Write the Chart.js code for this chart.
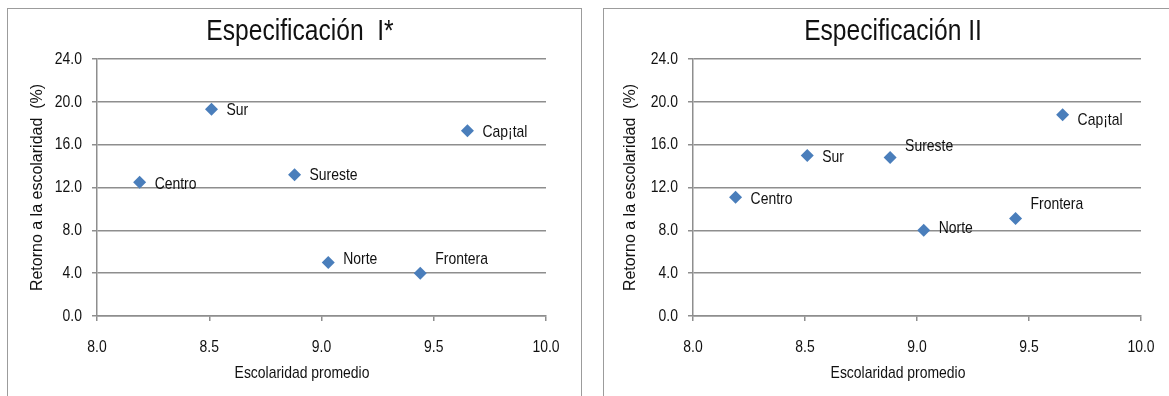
<!DOCTYPE html>
<html>
<head>
<meta charset="utf-8">
<script src="https://cdn.jsdelivr.net/npm/chart.js@4.4.1/dist/chart.umd.min.js"></script>
<style>
  html, body { margin: 0; padding: 0; background: #fff; overflow: hidden; width: 1169px; height: 396px; }
  body { position: relative; }
  .panel { position: absolute; top: 8px; height: 400px; border: 1px solid #9c9c9c; box-sizing: border-box; }
  #p1 { left: 7px; width: 575px; }
  #p2 { left: 603px; width: 620px; }
  canvas { position: absolute; top: 0; }
  #c1 { left: 0; }
  #c2 { left: 590px; }
</style>
</head>
<body>
<div class="panel" id="p1"></div>
<div class="panel" id="p2"></div>
<canvas id="c1" width="600" height="396"></canvas>
<canvas id="c2" width="606" height="396"></canvas>
<script>
// Regional returns to schooling under two specifications
const regions = ['Centro', 'Sur', 'Sureste', 'Norte', 'Frontera', 'Cap\u00a1tal'];
const schooling = [8.19, 8.51, 8.88, 9.03, 9.44, 9.65];
const returnsSpecI = [12.5, 19.3, 13.2, 5.0, 4.0, 17.3];
const returnsSpecII = [11.1, 15.0, 14.8, 8.0, 9.1, 18.8];
const xTicks = [8.0, 8.5, 9.0, 9.5, 10.0];
const yTicks = [0, 4, 8, 12, 16, 20, 24];

const SANS = "'Liberation Sans', Arial, sans-serif";
const NARROW_SCALE = 0.82;   // horizontal squeeze giving a narrow face
const GRID = '#8e8e8e';
const MARKER = '#4a7ebb';
const INK = '#111';

// Draw text in a condensed style anchored at (x, y)
function narrowText(ctx, text, x, y, size, align) {
  ctx.save();
  ctx.translate(x, y);
  ctx.scale(NARROW_SCALE, 1);
  ctx.font = size + 'px ' + SANS;
  ctx.fillStyle = INK;
  ctx.textAlign = align;
  ctx.textBaseline = 'middle';
  ctx.fillText(text, 0, 0);
  ctx.restore();
}

// Title, tick labels, axis caption and region names in the narrow face
const narrowLabels = {
  id: 'narrowLabels',
  afterDraw(chart, args, opts) {
    const { ctx, chartArea } = chart;
    const xs = chart.scales.x, ys = chart.scales.y;

    narrowText(ctx, opts.title, chart.width / 2, 32, 30, 'center');

    xs.ticks.forEach(t => {
      narrowText(ctx, Number(t.value).toFixed(1), xs.getPixelForValue(t.value), 347, 17, 'center');
    });
    ys.ticks.forEach(t => {
      narrowText(ctx, Number(t.value).toFixed(1), chartArea.left - 15, ys.getPixelForValue(t.value), 17, 'right');
    });

    narrowText(ctx, 'Escolaridad promedio', chart.width / 2 + opts.captionDx, 373, 17, 'center');

    const meta = chart.getDatasetMeta(0);
    meta.data.forEach((pt, i) => {
      narrowText(ctx, chart.data.labels[i], pt.x + 15, pt.y + opts.labelDy[i], 17, 'left');
    });
  }
};

function buildChart(canvasId, title, values, cfg) {
  const points = schooling.map((x, i) => ({ x, y: values[i] }));
  return new Chart(document.getElementById(canvasId), {
    type: 'scatter',
    data: {
      labels: regions,
      datasets: [{
        data: points,
        pointStyle: 'rectRot',
        pointRadius: 6.5,
        pointHoverRadius: 6.5,
        backgroundColor: MARKER,
        borderColor: MARKER,
        borderWidth: 0
      }]
    },
    options: {
      responsive: false,
      animation: false,
      events: [],
      layout: { padding: { left: 0, right: cfg.padRight, top: 59, bottom: 0 } },
      plugins: {
        legend: { display: false },
        tooltip: { enabled: false },
        title: { display: false },
        narrowLabels: {
          title: title,
          captionDx: cfg.captionDx,
          labelDy: cfg.labelDy
        }
      },
      scales: {
        x: {
          type: 'linear',
          min: xTicks[0],
          max: xTicks[xTicks.length - 1],
          afterBuildTicks: s => { s.ticks = xTicks.map(v => ({ value: v })); },
          afterFit: s => { s.height = 80; },
          grid: { drawOnChartArea: false, drawTicks: true, tickLength: 5, color: GRID, lineWidth: 1.5 },
          border: { display: true, color: GRID, width: 1.5 },
          ticks: { display: false },
          title: { display: false }
        },
        y: {
          type: 'linear',
          min: yTicks[0],
          max: yTicks[yTicks.length - 1],
          afterBuildTicks: s => { s.ticks = yTicks.map(v => ({ value: v })); },
          afterFit: s => { s.width = cfg.axisLeft; },
          grid: { drawOnChartArea: true, drawTicks: true, tickLength: 5, color: GRID, lineWidth: 1.5 },
          border: { display: true, color: GRID, width: 1.5 },
          ticks: { display: false },
          title: {
            display: true,
            text: 'Retorno a la escolaridad  (%)',
            color: INK,
            font: { family: SANS, size: 16, lineHeight: 1.2 },
            padding: { top: cfg.yTitlePad, bottom: 0 }
          }
        }
      }
    },
    plugins: [narrowLabels]
  });
}

buildChart('c1', 'Especificaci\u00f3n  I*', returnsSpecI, {
  padRight: 54, axisLeft: 97, yTitlePad: 28, captionDx: 2,
  labelDy: [2, 1, 1, -3, -14, 2]
});
buildChart('c2', 'Especificaci\u00f3n II', returnsSpecII, {
  padRight: 55, axisLeft: 103, yTitlePad: 31, captionDx: 5,
  labelDy: [2, 2, -11, -2, -14, 6]
});
</script>
</body>
</html>
